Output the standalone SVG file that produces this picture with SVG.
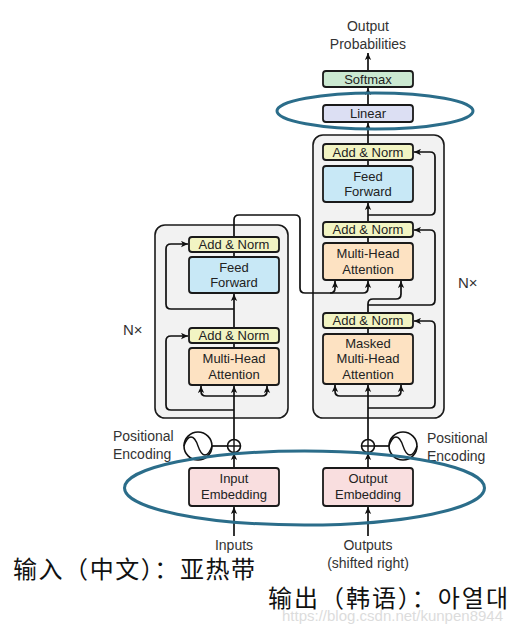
<svg xmlns="http://www.w3.org/2000/svg" width="524" height="628" viewBox="0 0 524 628">
<defs>
<marker id="ah" viewBox="0 0 10 10" refX="10" refY="5" markerWidth="7" markerHeight="7" markerUnits="userSpaceOnUse" orient="auto">
<path d="M0 0.5 L10 5 L0 9.5 L2.5 5 z" fill="#111"/>
</marker>
<style>
.lbl{font-family:"Liberation Sans",Arial,sans-serif;font-size:13px;fill:#222;text-anchor:middle}
.txt{font-family:"Liberation Sans",Arial,sans-serif;font-size:14px;fill:#333}
.mid{text-anchor:middle}
.blk{stroke:#1a1a1a;stroke-width:1.8}
.outer{fill:#f2f2f2;stroke:#1a1a1a;stroke-width:1.6}
.an{fill:#f2f4c3}
.ff{fill:#c8e8f6}
.mha{fill:#fde2c2}
.lin{fill:#dcdff3}
.sm{fill:#cbe9d1}
.emb{fill:#f9dedf}
.ln{fill:none;stroke:#111;stroke-width:1.7}
.arr{marker-end:url(#ah)}
.ell{fill:none;stroke:#2b6d8a;stroke-width:3}
.cjk{font-family:"Noto Sans CJK SC","Noto Sans CJK KR",sans-serif;font-size:24px;fill:#111}
</style>
</defs>
<rect width="524" height="628" fill="#ffffff"/>

<g id="encoder">
<rect class="outer" x="155" y="225" width="133" height="193" rx="10"/>
</g>
<g id="decoder">
<rect class="outer" x="313" y="135" width="131" height="283" rx="10"/>
</g>

<g id="connectors">
<!-- encoder -->
<path class="ln arr" d="M234 536 V507"/>
<path class="ln arr" d="M234 468 V453"/>
<path class="ln arr" d="M234 439 V386"/>
<path class="ln arr" d="M234 396 H206 Q201 396 201 391 V386"/>
<path class="ln arr" d="M234 396 H262 Q267 396 267 391 V386"/>
<path class="ln arr" d="M234 410 H171 Q166 410 166 405 V341 Q166 336 171 336 H188"/>
<path class="ln" d="M234 348 V343"/>
<path class="ln arr" d="M234 328 V294"/>
<path class="ln arr" d="M234 309 H171 Q166 309 166 304 V249 Q166 244 171 244 H188"/>
<path class="ln" d="M234 257 V252"/>
<path class="ln arr" d="M234 237 V220 Q234 215 239 215 H295 Q300 215 300 220 V288 Q300 293 305 293 H363 Q368 293 368 288 V281"/>
<path class="ln arr" d="M330 293 Q335 293 335 288 V281"/>
<path class="ln" d="M212 446 H227"/>
<!-- decoder -->
<path class="ln arr" d="M368 536 V507"/>
<path class="ln arr" d="M368 468 V453"/>
<path class="ln arr" d="M368 439 V385"/>
<path class="ln arr" d="M368 396 H340 Q335 396 335 391 V385"/>
<path class="ln arr" d="M368 396 H396 Q401 396 401 391 V385"/>
<path class="ln arr" d="M368 408 H430 Q435 408 435 403 V326 Q435 321 430 321 H414"/>
<path class="ln" d="M368 334 V328"/>
<path class="ln arr" d="M368 313 V304 Q368 299 373 299 H396 Q401 299 401 294 V281"/>
<path class="ln arr" d="M368 305 H430 Q435 305 435 300 V235 Q435 230 430 230 H414"/>
<path class="ln" d="M368 243 V237"/>
<path class="ln arr" d="M368 222 V203"/>
<path class="ln arr" d="M368 215 H430 Q435 215 435 210 V157 Q435 152 430 152 H414"/>
<path class="ln" d="M368 166 V160"/>
<path class="ln arr" d="M368 144 V123"/>
<path class="ln arr" d="M368 105 V88"/>
<path class="ln arr" d="M368 71 V53"/>
<path class="ln" d="M375 446 H389"/>
</g>

<g id="enc-addnorm2"><rect class="an blk" x="189" y="237" width="90" height="15" rx="3"/><text class="lbl" x="234" y="249">Add &amp; Norm</text></g>
<g id="enc-ff"><rect class="ff blk" x="189" y="257" width="90" height="36" rx="3"/><text class="lbl" x="234" y="272">Feed</text><text class="lbl" x="234" y="287">Forward</text></g>
<g id="enc-addnorm1"><rect class="an blk" x="189" y="328" width="90" height="15" rx="3"/><text class="lbl" x="234" y="340">Add &amp; Norm</text></g>
<g id="enc-mha"><rect class="mha blk" x="189" y="348" width="90" height="37" rx="3"/><text class="lbl" x="234" y="363">Multi-Head</text><text class="lbl" x="234" y="379">Attention</text></g>
<g id="input-embedding"><rect class="emb blk" x="189" y="468" width="90" height="38" rx="3"/><text class="lbl" x="234" y="483">Input</text><text class="lbl" x="234" y="499">Embedding</text></g>

<g id="dec-addnorm3"><rect class="an blk" x="323" y="144" width="90" height="16" rx="3"/><text class="lbl" x="368" y="157">Add &amp; Norm</text></g>
<g id="dec-ff"><rect class="ff blk" x="323" y="166" width="90" height="36" rx="3"/><text class="lbl" x="368" y="181">Feed</text><text class="lbl" x="368" y="196">Forward</text></g>
<g id="dec-addnorm2"><rect class="an blk" x="323" y="222" width="90" height="15" rx="3"/><text class="lbl" x="368" y="234">Add &amp; Norm</text></g>
<g id="dec-mha"><rect class="mha blk" x="323" y="243" width="90" height="37" rx="3"/><text class="lbl" x="368" y="258">Multi-Head</text><text class="lbl" x="368" y="274">Attention</text></g>
<g id="dec-addnorm1"><rect class="an blk" x="323" y="313" width="90" height="15" rx="3"/><text class="lbl" x="368" y="325">Add &amp; Norm</text></g>
<g id="dec-mmha"><rect class="mha blk" x="323" y="334" width="90" height="50" rx="3"/><text class="lbl" x="368" y="348">Masked</text><text class="lbl" x="368" y="363">Multi-Head</text><text class="lbl" x="368" y="379">Attention</text></g>
<g id="output-embedding"><rect class="emb blk" x="323" y="468" width="90" height="38" rx="3"/><text class="lbl" x="368" y="483">Output</text><text class="lbl" x="368" y="499">Embedding</text></g>
<g id="linear"><rect class="lin blk" x="323" y="105" width="90" height="17" rx="3"/><text class="lbl" x="368" y="118">Linear</text></g>
<g id="softmax"><rect class="sm blk" x="323" y="71" width="90" height="16" rx="3"/><text class="lbl" x="368" y="84">Softmax</text></g>

<g id="enc-posenc">
<circle cx="198" cy="446" r="14" fill="#fff" stroke="#111" stroke-width="1.6"/>
<path d="M184 446 C188 434 194 434 198 446 S208 458 212 446" fill="none" stroke="#111" stroke-width="1.4"/>
<circle cx="234" cy="446" r="6.5" fill="#fff" stroke="#111" stroke-width="1.6"/>
<path d="M227.5 446 H240.5 M234 439.5 V452.5" stroke="#111" stroke-width="1.4"/>
<text class="txt" x="113" y="441">Positional</text>
<text class="txt" x="113" y="459">Encoding</text>
</g>
<g id="dec-posenc">
<circle cx="403" cy="446" r="14" fill="#fff" stroke="#111" stroke-width="1.6"/>
<path d="M389 446 C393 434 399 434 403 446 S413 458 417 446" fill="none" stroke="#111" stroke-width="1.4"/>
<circle cx="368" cy="446" r="6.5" fill="#fff" stroke="#111" stroke-width="1.6"/>
<path d="M361.5 446 H374.5 M368 439.5 V452.5" stroke="#111" stroke-width="1.4"/>
<text class="txt" x="427" y="443">Positional</text>
<text class="txt" x="427" y="461">Encoding</text>
</g>

<g id="labels">
<text class="txt mid" x="368" y="31">Output</text>
<text class="txt mid" x="368" y="49">Probabilities</text>
<text class="txt" x="123" y="335" style="font-size:15px">N×</text>
<text class="txt" x="458" y="288" style="font-size:15px">N×</text>
<text class="txt mid" x="234" y="550">Inputs</text>
<text class="txt mid" x="368" y="550">Outputs</text>
<text class="txt mid" x="368" y="568">(shifted right)</text>
</g>

<g id="highlights">
<ellipse class="ell" cx="375" cy="111" rx="98" ry="18"/>
<ellipse class="ell" cx="304.5" cy="488" rx="180" ry="37"/>
</g>

<g id="notes">
<text class="cjk" x="13" y="578" textLength="242" lengthAdjust="spacing">输入（中文）：亚热带</text>
<text x="282" y="621" style="font-family:'Liberation Sans',Arial,sans-serif;font-size:15px;fill:#dcdcdc">https://blog.csdn.net/kunpen8944</text>
<text class="cjk" x="268" y="607" textLength="240" lengthAdjust="spacing">输出（韩语）：아열대</text>
</g>
</svg>
